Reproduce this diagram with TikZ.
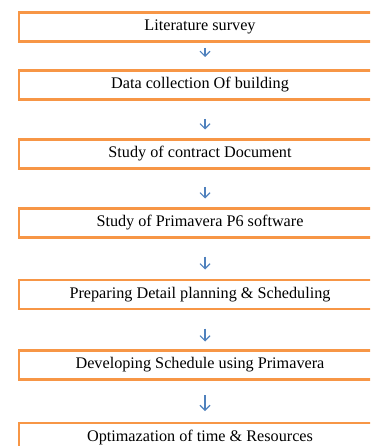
\documentclass[tikz,border=0pt]{standalone}
\usepackage{fontspec}
\setmainfont{Liberation Serif}
\usetikzlibrary{arrows.meta, positioning}

\definecolor{boxorange}{HTML}{F79646}
\definecolor{arrowblue}{HTML}{4F81BD}

\tikzset{
  stage/.style = {draw = boxorange, line width = 2.8pt, outer sep = 0pt,
                  minimum width = 362pt, minimum height = 29pt, inner sep = 0pt,
                  font = \fontsize{16.2}{19}\selectfont},
  flow/.style  = {draw = arrowblue, line width = 1.1pt,
                  -{Straight Barb[length = 5pt, width = 10pt]}}
}

\begin{document}
\begin{tikzpicture} [x = 1pt, y = -1pt]
\useasboundingbox (0,0) rectangle (370,446);
\clip (0,0) rectangle (370,446);
\node[stage] (s1) at (200,27)    {Literature survey};
\node[stage] (s2) at (200,85)    {Data collection Of building};
\node[stage] (s3) at (200,154)   {Study of contract Document};
\node[stage] (s4) at (200,223)   {Study of Primavera P6 software};
\node[stage] (s5) at (200,294.5) {Preparing Detail planning \& Scheduling};
\node[stage] (s6) at (200,365)   {Developing Schedule using Primavera};
\node[stage] (s7) at (200,437.5) {Optimazation of time \& Resources};
\draw [flow, shorten < = 6.5pt,  shorten > = 13.5pt] ([xshift=5pt]s1.south) -- ([xshift=5pt]s2.north);
\draw [flow, shorten < = 19.5pt, shorten > = 10pt]   ([xshift=5pt]s2.south) -- ([xshift=5pt]s3.north);
\draw [flow, shorten < = 18.5pt, shorten > = 10pt]   ([xshift=5pt]s3.south) -- ([xshift=5pt]s4.north);
\draw [flow, shorten < = 19pt,   shorten > = 10.5pt] ([xshift=5pt]s4.south) -- ([xshift=5pt]s5.north);
\draw [flow, shorten < = 19.5pt, shorten > = 9pt]    ([xshift=5pt]s5.south) -- ([xshift=5pt]s6.north);
\draw [flow, shorten < = 15.5pt, shorten > = 12pt]   ([xshift=5pt]s6.south) -- ([xshift=5pt]s7.north);
\end{tikzpicture}
\end{document}
